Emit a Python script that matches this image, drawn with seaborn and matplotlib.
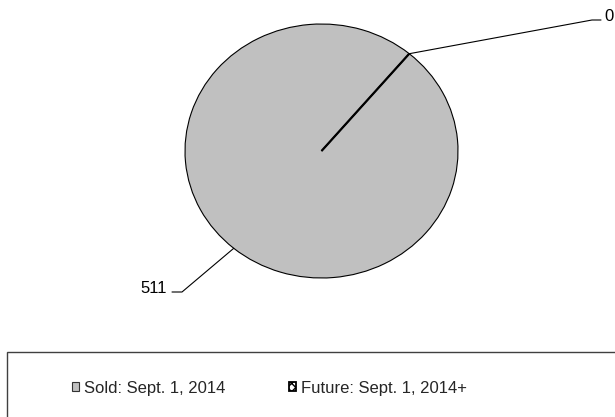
import numpy as np
import matplotlib
matplotlib.use('Agg')
import matplotlib.pyplot as plt
from matplotlib.patches import Patch, Rectangle
from matplotlib.lines import Line2D
import seaborn as sns

# data
categories = ['Sold: Sept. 1, 2014', 'Future: Sept. 1, 2014+']
values     = [511, 0]
colors     = ['#c0c0c0', 'white']
hatches    = [None, 'xxxx']

sns.set_theme(style='white')
plt.rcParams['font.family'] = ['Liberation Sans', 'DejaVu Sans']

W, H = 615, 417
fig = plt.figure(figsize=(W / 100, H / 100), dpi=100)
fig.patch.set_facecolor('white')

# pie axes stretched a little wider than tall (elliptical pie)
ax = fig.add_axes([185 / W, 139 / H, 273 / W, 254 / H])
wedges, _ = ax.pie(values, colors=colors, startangle=50,
                   wedgeprops=dict(edgecolor='black', linewidth=0.8))
for w, h in zip(wedges, hatches):
    if h:
        w.set_hatch(h)
wedges[1].set_linewidth(1.6)
ax.set_aspect('auto')
ax.set_xlim(-1, 1)
ax.set_ylim(-1, 1)
ax.axis('off')

# leader lines + value labels (figure pixel coords for elbows / text)
label_layout = [
    # elbow, end of horizontal tick, text pos, ha
    ((182, H - 292), (172, H - 292), (167, H - 293), 'right'),
    ((592, H - 20),  (601, H - 20),  (604, H - 21),  'left'),
]
for w, v, (elbow, tick, tpos, ha) in zip(wedges, values, label_layout):
    mid = np.deg2rad((w.theta1 + w.theta2) / 2)
    rim = ax.transData.transform((np.cos(mid), np.sin(mid)))
    xs = [rim[0], elbow[0], tick[0]]
    ys = [rim[1], elbow[1], tick[1]]
    fig.add_artist(Line2D(xs, ys, transform=None, color='black', lw=0.8))
    fig.text(tpos[0] / W, tpos[1] / H, f'{v}', ha=ha, va='baseline',
             fontsize=12, color='black')

# legend box running off the bottom/right edge
fig.add_artist(Rectangle((7 / W, -0.1), 1.2, (H - 352) / H + 0.1,
                         transform=fig.transFigure, fill=False,
                         edgecolor='#404040', lw=1.0, clip_on=False))

handles = [Patch(facecolor=c, edgecolor='#333333', hatch=h, lw=0.8)
           for c, h in zip(colors, hatches)]
handles[1].set_edgecolor('black')
handles[1].set_linewidth(1.3)
fs = 12
px = fs * 100 / 72
fig.legend(handles, categories, loc='center left',
           bbox_to_anchor=(72 / W, 29 / H), ncol=2, frameon=False,
           fontsize=fs, borderpad=0, borderaxespad=0,
           handlelength=7 / px, handleheight=7 / px,
           handletextpad=5 / px, columnspacing=(291 - 227) / px)

fig.savefig('out.png', dpi=100)
